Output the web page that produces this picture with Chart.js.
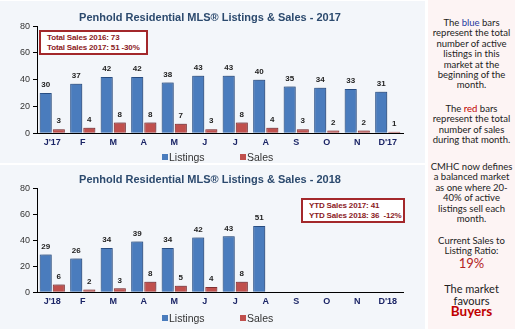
<!DOCTYPE html>
<html>
<head>
<meta charset="utf-8">
<script src="https://cdn.jsdelivr.net/npm/chart.js@4.4.0/dist/chart.umd.min.js"></script>
<style>
  html, body { margin: 0; padding: 0; background: #fff; }
  #page { position: relative; width: 515px; height: 329px; overflow: hidden; }
  .panel { position: absolute; left: 0; width: 425px; background: #f3f6fa; }
  .panel canvas { display: block; }
  #top { top: 1px; height: 162px; }
  #bottom { top: 165px; height: 164px; }
  .note {
    position: absolute; background: #fff; border: 2px solid #a3282b; white-space: nowrap;
    font: bold 8px Arial, "Liberation Sans", sans-serif; color: #8b1a1d; letter-spacing: -0.15px;
    line-height: 10px; padding: 1px 0 0 6px; box-sizing: border-box;
  }
  .legend { position: absolute; font: 10.5px Arial, sans-serif; color: #333; white-space: nowrap; line-height: 12px; }
  .legend span.box { position: absolute; top: 3px; width: 6px; height: 6px; }
  .legend span.txt { position: absolute; top: 0; }
  #side {
    position: absolute; left: 428px; top: 0; width: 87px; height: 329px;
    background: #fdf4f4; text-align: center;
    font: 9.5px Lato, "Open Sans", sans-serif; color: #222; line-height: 10.4px;
  }
  #side p { margin: 0; position: absolute; left: 0; width: 87px; }
</style>
</head>
<body>
<div id="page">
  <div class="panel" id="top"><canvas id="c2017" width="425" height="162"></canvas></div>
  <div class="panel" id="bottom"><canvas id="c2018" width="425" height="164"></canvas></div>
  <div class="note" style="left:39px;top:30px;width:109px;height:25px;">Total Sales 2016: 73<br>Total Sales 2017: 51 -30%</div>
  <div class="note" style="left:301px;top:198px;width:104px;height:25px;">YTD Sales 2017: 41<br>YTD Sales 2018: 36&nbsp; -12%</div>
  <div class="legend" style="left:0;top:151px;width:425px;height:12px;" id="leg2017"></div>
  <div class="legend" style="left:0;top:312px;width:425px;height:12px;" id="leg2018"></div>
  <div id="side">
    <p style="top:18px">The <span style="color:#1f3aa0">blue</span> bars<br>represent the total<br>number of active<br>listings in this<br>market at the<br>beginning of the<br>month.</p>
    <p style="top:104px">The <span style="color:#c00000">red</span> bars<br>represent the total<br>number of sales<br>during that month.</p>
    <p style="top:162px">CMHC now defines<br>a balanced market<br>as one where 20-<br>40% of active<br>listings sell each<br>month.</p>
    <p style="top:236px">Current Sales to<br>Listing Ratio:</p>
    <p style="top:258px;font-size:13px;color:#b22222;">19%</p>
    <p style="top:283px;font-size:11px;line-height:12px;">The market<br>favours</p>
    <p style="top:306px;font-size:13.5px;font-weight:bold;color:#c00000;">Buyers</p>
  </div>
</div>
<script>
// ---- data ----
const months2017 = ["J'17", 'F', 'M', 'A', 'M', 'J', 'J', 'A', 'S', 'O', 'N', "D'17"];
const listings2017 = [30, 37, 42, 42, 38, 43, 43, 40, 35, 34, 33, 31];
const sales2017 = [3, 4, 8, 8, 7, 3, 8, 4, 3, 2, 2, 1];

const months2018 = ["J'18", 'F', 'M', 'A', 'M', 'J', 'J', 'A', 'S', 'O', 'N', "D'18"];
const listings2018 = [29, 26, 34, 39, 34, 42, 43, 51, null, null, null, null];
const sales2018 = [6, 2, 3, 8, 5, 4, 8, null, null, null, null, null];

const yTicks = [0, 10, 20, 30, 40, 50, 60, 70, 80];

const LISTINGS_COLOR = '#4a7cbd';
const SALES_COLOR = '#c0504d';

// bar shadow + value labels above bars
const barExtras = {
  id: 'barExtras',
  beforeDatasetsDraw(chart) {
    const ctx = chart.ctx;
    ctx.save();
    ctx.shadowColor = 'rgba(20,30,60,0.45)';
    ctx.shadowBlur = 4;
    ctx.shadowOffsetX = 1;
    ctx.shadowOffsetY = -1;
  },
  afterDatasetsDraw(chart) {
    const ctx = chart.ctx;
    ctx.restore();
    ctx.save();
    ctx.font = 'bold 8px Arial';
    ctx.fillStyle = '#222';
    ctx.textAlign = 'center';
    ctx.textBaseline = 'middle';
    chart.data.datasets.forEach((ds, i) => {
      chart.getDatasetMeta(i).data.forEach((bar, j) => {
        const v = ds.data[j];
        if (v === null || v === undefined) return;
        ctx.fillText(v, bar.x, bar.y - 8);
      });
    });
    ctx.restore();
  }
};

// simple html legend (Excel-like spacing)
function buildLegend(id, chart) {
  const el = document.getElementById(id);
  const xs = [162, 240];
  chart.data.datasets.forEach((ds, i) => {
    el.innerHTML += '<span class="box" style="left:' + xs[i] + 'px;background:' + ds.backgroundColor + '"></span>' +
      '<span class="txt" style="left:' + (xs[i] + 7) + 'px">' + ds.label + '</span>';
  });
}

function makeChart(id, title, months, listings, sales, pad) {
  return new Chart(document.getElementById(id), {
    type: 'bar',
    data: {
      labels: months,
      datasets: [{
        label: 'Listings',
        data: listings,
        backgroundColor: LISTINGS_COLOR,
        borderColor: '#2f5b96',
        borderWidth: 1
      }, {
        label: 'Sales',
        data: sales,
        backgroundColor: SALES_COLOR,
        borderColor: '#9a3532',
        borderWidth: 1
      }]
    },
    options: {
      responsive: false,
      animation: false,
      datasets: { bar: { categoryPercentage: 0.86, barPercentage: 0.92 } },
      layout: { padding: { left: 17, right: 22, top: 0, bottom: pad.bottom } },
      plugins: {
        title: {
          display: true,
          text: title,
          color: '#2c4a6e',
          font: { family: 'Arial', size: 11, weight: 'bold' },
          padding: { top: pad.titleTop, bottom: 2 }
        },
        legend: { display: false },
        tooltip: { enabled: false }
      },
      scales: {
        x: {
          grid: { display: false, drawTicks: false },
          border: { color: '#000', width: 1 },
          ticks: { color: '#1b2566', font: { family: 'Arial', size: 9, weight: 'bold' }, padding: 4 }
        },
        y: {
          min: yTicks[0],
          max: yTicks[yTicks.length - 1],
          afterBuildTicks: (axis) => { axis.ticks = yTicks.map(v => ({ value: v })); },
          grid: { drawOnChartArea: false, drawTicks: true, tickLength: 4, color: '#000' },
          border: { color: '#000', width: 1 },
          ticks: { color: '#333', font: { family: 'Arial', size: 9 }, padding: 3 }
        }
      }
    },
    plugins: [barExtras]
  });
}

const chart2017 = makeChart('c2017', 'Penhold Residential MLS\u00AE Listings & Sales - 2017',
  months2017, listings2017, sales2017, { titleTop: 10, bottom: 11 });
const chart2018 = makeChart('c2018', 'Penhold Residential MLS\u00AE Listings & Sales - 2018',
  months2018, listings2018, sales2018, { titleTop: 8, bottom: 18 });
buildLegend('leg2017', chart2017);
buildLegend('leg2018', chart2018);
</script>
</body>
</html>
